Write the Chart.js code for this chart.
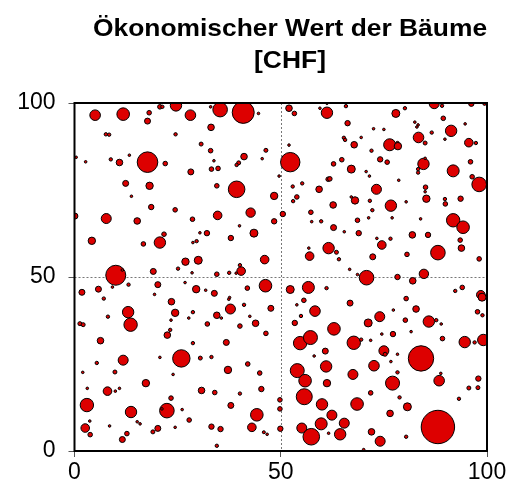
<!DOCTYPE html>
<html>
<head>
<meta charset="utf-8">
<script src="https://cdn.jsdelivr.net/npm/chart.js@4/dist/chart.umd.min.js"></script>
<style>
  body { margin: 0; background: #fff; }
</style>
</head>
<body>
<canvas id="myChart" width="510" height="496"></canvas>
<script>
// Baeume: x / y Position [m] und Kreisgroesse (Wert)
var xWerte = [
  5.0, 11.8, 18.1, 17.7, 20.7, 21.3, 24.6, 28.1, 7.6, 8.4, 24.5, 30.7, 33.1, 0.4, 2.7, 8.8, 10.9, 13.3, 17.7, 22.0, 28.2, 33.0, 33.2, 12.4, 18.2, 13.8, 18.6, 24.4, 0.1, 7.7, 15.2, 28.6,
  35.3, 40.9, 33.0, 44.6, 52.0, 53.3, 61.2, 59.5, 61.2, 65.8, 66.2, 65.3, 65.6, 52.0, 46.4, 33.8, 41.1, 45.5, 39.8, 39.3, 34.8, 52.3, 62.8, 64.8, 67.1, 49.6, 34.5, 39.3, 48.4, 52.9, 55.2, 59.3, 61.5, 61.9, 53.9, 53.0, 62.7, 42.7, 34.7, 50.5, 57.3,
  87.2, 89.1, 96.2, 99.4, 77.9, 80.1, 89.4, 72.5, 75.0, 82.5, 83.3, 83.0, 86.6, 91.3, 94.7, 67.8, 69.5, 76.4, 78.3, 78.4, 83.4, 85.0, 89.8, 95.6, 97.3, 72.0, 74.1, 75.8, 84.6, 85.0, 83.3, 83.3, 91.8, 96.0, 70.7, 71.5, 96.4, 98.1, 78.6, 73.2, 85.1, 85.0, 85.3, 68.0, 67.1, 71.6, 76.7, 80.4, 89.8, 89.9, 93.6, 72.2,
  68.6, 71.3, 77.0, 83.9, 91.8, 94.2, 68.9, 73.3, 76.6, 74.5, 81.9, 85.7, 93.5, 93.8, 88.1, 72.3, 80.6, 98.1, 66.7, 68.6, 70.8, 78.3, 82.0, 84.7, 94.0, 92.3, 98.5, 98.8, 80.4, 66.8, 77.3, 82.8, 74.0, 71.2, 80.2, 85.9, 87.7, 88.9, 97.7, 98.9, 74.5, 77.2, 81.6,
  4.2, 16.7, 20.7, 21.7, 30.4, 32.1, 29.6, 28.7, 10.0, 11.6, 19.1, 25.1, 26.9, 30.0, 28.5, 5.8, 9.2, 13.1, 20.2, 26.8, 29.5, 31.8, 1.8, 7.1, 19.4, 23.5, 13.0, 13.6, 8.1, 24.4, 28.7, 27.7, 23.4, 1.3, 2.1, 32.2, 23.2, 22.5,
  48.4, 40.0, 43.5, 37.9, 46.1, 40.4, 40.1, 37.5, 39.2, 34.5, 57.5, 59.8, 62.8, 65.4, 61.6, 63.5, 64.1, 57.0, 56.8, 46.3, 41.9, 33.9, 37.6, 37.4, 52.3, 56.7, 61.1, 41.1, 37.8, 47.6, 55.6, 53.9, 58.3, 34.5, 35.6, 42.5, 54.9, 43.9, 40.1, 53.4, 62.9, 46.4,
  6.3, 28.7, 11.8, 5.4, 20.7, 25.9, 30.5, 2.0, 9.8, 23.9, 17.3, 3.1, 8.0, 9.9, 10.9, 30.8, 3.0, 13.7, 22.4, 21.2, 23.4, 26.1, 27.8, 3.7, 2.6, 3.8, 8.5, 15.2, 15.9, 12.7, 11.6, 20.2, 19.0, 24.4,
  36.8, 33.2, 42.0, 37.2, 44.9, 34.0, 40.1, 45.3, 37.9, 44.2, 43.0, 33.2, 35.4, 45.9, 46.7, 34.5, 49.8, 49.8, 49.9, 54.7, 57.2, 60.8, 58.1, 54.0, 55.9, 61.0, 61.2, 55.7, 60.0, 62.4, 65.4, 55.1, 59.8, 57.4, 61.6, 64.4,
  67.7, 69.5, 71.8, 89.2, 94.6, 97.0, 99.1, 75.0, 75.3, 78.3, 84.0, 76.7, 72.6, 67.5, 78.3, 77.1, 88.4, 88.8, 97.9, 95.6, 97.8, 71.8, 78.8, 93.2, 68.5, 80.7, 76.5, 88.1, 72.0, 80.4, 74.1, 70.1
];
var yWerte = [
  96.5, 96.8, 97.2, 94.8, 98.9, 98.9, 99.3, 96.5, 91.0, 90.9, 91.0, 88.2, 93.0, 84.4, 83.1, 83.8, 82.9, 85.0, 83.0, 82.6, 80.2, 86.3, 81.0, 76.9, 76.2, 73.2, 70.1, 69.3, 67.5, 66.8, 66.1, 66.6,
  98.1, 97.3, 98.9, 97.0, 98.5, 97.0, 97.2, 98.5, 99.8, 99.1, 94.2, 90.0, 89.4, 87.9, 86.4, 83.4, 84.6, 84.0, 82.8, 82.2, 81.2, 83.0, 82.5, 83.7, 81.0, 79.0, 76.2, 75.2, 73.3, 76.0, 76.9, 75.2, 78.1, 78.2, 73.0, 71.8, 70.7, 68.5, 67.7, 68.1, 68.6,
  99.8, 99.2, 99.8, 99.8, 97.0, 98.5, 95.6, 92.6, 92.4, 94.5, 93.7, 93.1, 91.5, 92.0, 94.0, 88.0, 90.1, 88.0, 88.5, 87.6, 90.1, 88.5, 89.6, 88.6, 88.5, 86.3, 83.8, 83.0, 82.5, 84.1, 81.0, 80.0, 80.5, 83.1, 80.3, 79.0, 78.8, 76.6, 77.8, 75.2, 75.8, 74.5, 72.5, 72.0, 73.0, 71.9, 70.5, 71.6, 72.4, 71.0, 72.5, 69.2,
  66.3, 67.0, 67.0, 66.7, 66.3, 64.3, 62.6, 61.1, 61.0, 59.2, 62.1, 62.1, 60.6, 58.3, 57.0, 55.8, 56.5, 55.2, 52.2, 50.7, 49.8, 50.0, 48.9, 50.9, 47.0, 46.0, 44.9, 44.2, 43.8, 42.5, 40.5, 40.8, 38.6, 36.8, 37.6, 37.2, 37.6, 36.5, 40.0, 39.0, 33.6, 33.6, 34.3,
  60.4, 59.5, 59.9, 62.3, 62.7, 62.6, 60.3, 59.9, 50.5, 52.0, 51.6, 52.4, 54.4, 54.8, 51.2, 46.5, 47.1, 47.8, 47.8, 48.4, 46.5, 46.2, 45.6, 43.8, 45.0, 42.9, 39.9, 36.3, 38.6, 39.7, 39.9, 38.2, 37.6, 36.6, 36.3, 36.5, 34.8, 33.3,
  66.0, 64.7, 62.6, 61.2, 55.0, 51.7, 53.4, 51.2, 51.1, 50.8, 65.9, 66.0, 64.2, 63.0, 58.3, 57.1, 55.1, 56.0, 58.3, 47.5, 46.8, 45.3, 44.1, 43.6, 46.4, 47.0, 46.8, 42.0, 40.8, 41.0, 43.3, 42.0, 40.2, 39.0, 38.2, 38.7, 38.8, 36.7, 35.9, 36.8, 35.1, 33.8,
  31.7, 31.0, 26.1, 25.3, 26.9, 26.6, 26.7, 22.6, 22.7, 22.0, 19.5, 18.0, 17.2, 17.2, 18.0, 17.4, 13.2, 11.2, 11.6, 12.1, 15.2, 11.9, 8.9, 8.6, 6.6, 4.7, 7.2, 8.4, 7.8, 5.0, 3.3, 6.5, 5.5, 6.8,
  31.2, 27.0, 25.0, 23.3, 22.4, 16.8, 16.5, 17.8, 13.1, 10.4, 6.8, 7.0, 6.3, 5.4, 4.8, 1.5, 14.7, 12.1, 6.4, 31.0, 32.6, 28.7, 27.3, 23.1, 20.2, 24.3, 19.5, 15.6, 13.4, 10.3, 8.0, 6.6, 7.8, 4.1, 5.1, 4.8,
  31.1, 32.0, 31.8, 32.3, 31.3, 31.2, 31.9, 28.8, 27.8, 27.8, 26.6, 25.7, 24.5, 22.0, 22.6, 19.5, 20.2, 22.3, 20.8, 18.1, 18.2, 16.7, 15.4, 15.0, 13.5, 12.7, 10.8, 6.9, 5.5, 4.1, 2.8, 0.4
];
var groessen = [
  5.3, 6.3, 2.3, 3, 2.3, 1.7, 5.7, 5.3, 1.7, 1.7, 1.7, 2, 3.3, 1.3, 1.3, 1.7, 3.3, 1.3, 10.3, 2.3, 3, 2.3, 2.3, 3, 3.7, 1.3, 2.7, 2.3, 3, 5, 3.3, 2.3,
  7.3, 11, 1.3, 1.3, 3.3, 2.3, 5.7, 1.3, 1, 1.7, 2.7, 1.7, 1.7, 1.3, 2, 1.3, 3.3, 1.3, 2, 1.7, 2.3, 9.7, 2.3, 2.3, 4, 1.3, 2.3, 8.3, 3.7, 1.7, 1.7, 3.3, 2.3, 2.3, 2.3, 1.7, 3.3, 4.7, 4.3, 2.7, 2.3,
  5, 1.7, 2.7, 1.7, 4, 1.7, 2.3, 1.3, 1.3, 1.3, 1.3, 1.3, 1.7, 5.7, 1.3, 3.3, 1.3, 6, 1.7, 3.7, 5.3, 2, 1.3, 4.3, 1.7, 1.7, 2.7, 2.3, 5.7, 1.3, 1.7, 1.7, 6, 2.3, 1.3, 1.3, 2.3, 7.3, 1.3, 5, 2.3, 1.3, 3.7, 3.7, 1.3, 1.7, 5.7, 1.3, 1.7, 2.3, 2.7, 1.7,
  2.3, 1.3, 1.3, 1.3, 6.7, 6.3, 2.7, 1.3, 1.7, 4.3, 3.3, 2.7, 2.3, 3.3, 7.3, 3, 2.3, 2.3, 1.3, 1.3, 7.3, 2.7, 3.3, 4.7, 2.3, 1.7, 4.3, 4, 2.3, 3, 1.3, 3.3, 5, 4, 2.3, 5.7, 1.7, 1.3, 2.3, 1.7, 1.3, 2.7, 1.3,
  3.7, 2.3, 5.7, 2.3, 1.3, 2.7, 1.7, 1.3, 10, 1.3, 3, 1.7, 3.7, 4, 1.3, 3, 1.3, 1.7, 3, 1.3, 3.7, 1.3, 3, 1.7, 1.3, 3.3, 5.7, 6.7, 1.7, 3.7, 1.7, 1.3, 1.3, 2, 2, 2.3, 1.7, 3.3,
  2.7, 1.3, 4, 2.7, 4.3, 4.3, 1.7, 1.7, 1.3, 2.3, 1.3, 1.7, 3, 1.3, 5.7, 2, 1.7, 4.3, 1.3, 6.3, 2.3, 3, 1.3, 1.3, 4, 6, 1.7, 1.7, 5, 3, 2.3, 1.3, 5.3, 3.3, 1.3, 1.3, 1.7, 3.3, 2.3, 2.7, 6.3, 2.3,
  3.3, 1.7, 5, 1.7, 1.3, 8.7, 2, 1.3, 2, 1.3, 3.7, 1.3, 4.3, 1.3, 1.3, 3.3, 6.7, 5.7, 7.3, 1.3, 2.3, 1.3, 2.3, 1.3, 4.3, 2.3, 1.3, 1.3, 1.3, 2.3, 3, 3, 2, 1.3,
  3, 1.7, 2.3, 3.7, 2.3, 2.3, 1.7, 2.7, 3, 6.3, 4.3, 2.7, 2.7, 1.5, 1.3, 1.7, 2.3, 2.3, 2.7, 6.7, 7, 3, 1.3, 7, 6.3, 5.7, 3.7, 8, 5.7, 5, 5, 5, 6, 8.3, 1.3, 5.7,
  6.7, 1.7, 1.3, 2.3, 5.7, 1.7, 5.7, 5, 2, 1.3, 12.7, 1.3, 5.3, 5, 1.7, 7, 5.3, 1.3, 2.7, 2, 2, 2.3, 1.7, 1.7, 6.3, 4, 3.3, 16.7, 3.3, 1.7, 5, 1.3
];
var titelZeilen = ['Ökonomischer Wert der Bäume', '[CHF]'];
var achsenMin = 0;
var achsenMax = 100;
var achsenSchritt = 50;

function genPunkte() {
  var punkte = [];
  for (var i = 0; i < xWerte.length; i++) {
    punkte.push({ x: xWerte[i], y: yWerte[i], r: groessen[i] });
  }
  return punkte;
}

// Mittellinien, Rahmen und Titel
var rahmenPlugin = {
  id: 'rahmen',
  beforeDatasetsDraw: function(chart) {
    var ctx = chart.ctx;
    var a = chart.chartArea;
    var mx = chart.scales.x.getPixelForValue(50);
    var my = chart.scales.y.getPixelForValue(50);
    ctx.save();
    ctx.strokeStyle = '#777';
    ctx.lineWidth = 1;
    ctx.setLineDash([2, 2]);
    ctx.beginPath();
    ctx.moveTo(Math.round(mx) + 0.5, a.top);
    ctx.lineTo(Math.round(mx) + 0.5, a.bottom);
    ctx.moveTo(a.left, Math.round(my) + 0.5);
    ctx.lineTo(a.right, Math.round(my) + 0.5);
    ctx.stroke();
    ctx.restore();
  },
  afterDatasetsDraw: function(chart) {
    var ctx = chart.ctx;
    var a = chart.chartArea;
    ctx.save();
    ctx.strokeStyle = '#000';
    ctx.lineWidth = 2;
    ctx.strokeRect(a.left, a.top, a.right - a.left, a.bottom - a.top);
    ctx.restore();
  },
  afterDraw: function(chart) {
    var ctx = chart.ctx;
    ctx.save();
    ctx.fillStyle = '#000';
    ctx.font = 'bold 24px "Liberation Sans", Arial, sans-serif';
    ctx.textAlign = 'center';
    ctx.textBaseline = 'alphabetic';
    var basis = [36, 68];
    for (var i = 0; i < titelZeilen.length; i++) {
      ctx.save();
      ctx.translate(290, basis[i]);
      ctx.scale(1.1, 1);
      ctx.fillText(titelZeilen[i], 0, 0);
      ctx.restore();
    }
    ctx.restore();
  }
};

function genGraph() {
  var ctx = document.getElementById('myChart').getContext('2d');
  var tickFont = { family: '"Liberation Sans", Arial, sans-serif', size: 23 };
  var myChart = new Chart(ctx, {
    type: 'bubble',
    data: {
      datasets: [{
        label: 'Bäume',
        data: genPunkte(),
        backgroundColor: 'rgb(221, 0, 0)',
        borderColor: '#000',
        borderWidth: 1,
        clip: 0
      }]
    },
    options: {
      responsive: false,
      animation: false,
      devicePixelRatio: 1,
      events: [],
      layout: { padding: { top: 103, right: 23, left: 0, bottom: 0 } },
      plugins: {
        legend: { display: false },
        title: { display: false },
        tooltip: { enabled: false }
      },
      scales: {
        x: {
          type: 'linear',
          min: achsenMin,
          max: achsenMax,
          ticks: { stepSize: achsenSchritt, color: '#000', font: tickFont, padding: 2, maxRotation: 0 },
          grid: { drawOnChartArea: false, drawTicks: true, tickLength: 6, tickColor: '#555' },
          border: { display: false },
          afterFit: function(scale) { scale.height = 45; }
        },
        y: {
          type: 'linear',
          min: achsenMin,
          max: achsenMax,
          ticks: { stepSize: achsenSchritt, color: '#000', font: tickFont, padding: 13 },
          grid: { drawOnChartArea: false, drawTicks: true, tickLength: 6, tickColor: '#555' },
          border: { display: false },
          afterFit: function(scale) { scale.width = 74.5; }
        }
      }
    },
    plugins: [rahmenPlugin]
  });
}

genGraph();
</script>
</body>
</html>
